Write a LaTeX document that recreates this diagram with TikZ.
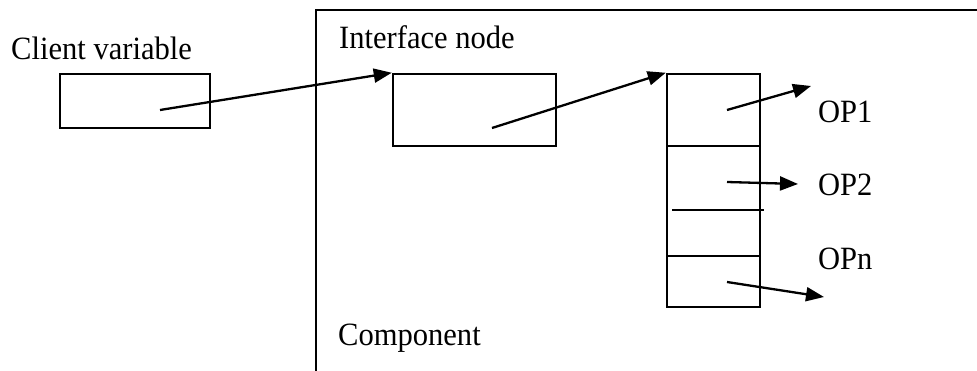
\documentclass[tikz,border=0pt]{standalone}
\usepackage{fontspec}
\setmainfont{Liberation Serif}
\usetikzlibrary{arrows.meta}

\begin{document}
\begin{tikzpicture}[x=1pt, y=-1pt, line width=2.5pt,
    box/.style={draw, rectangle, inner sep=0pt, line width=2.5pt},
    lbl/.style={anchor=base west, inner sep=0pt, xscale=0.94, font=\fontsize{32.5}{38}\selectfont},
    arr/.style={-{Triangle[length=18pt, width=14pt]}, line width=2.3pt}]
    \useasboundingbox (0,0) rectangle (977,371);

    % Component frame
    \draw (316,371) -- (316,10) -- (977,10);
    \node[lbl] (comp) at (337,345) {Component};

    % Client variable
    \node[lbl] (cvlabel) at (10,60) {Client variable};
    \node[box, minimum width=150pt, minimum height=54pt] (cv) at (135,101) {};
    \coordinate (cvdot) at (160,110);

    % Interface node
    \node[lbl] (iflabel) at (338,49) {Interface node};
    \node[box, minimum width=163pt, minimum height=72pt] (if) at (474.5,110) {};
    \coordinate (ifdot) at (492,128);

    % Operation table
    \node[box, minimum width=93pt, minimum height=72pt] (cell1) at (713.5,110) {};
    \node[box, minimum width=93pt, minimum height=110pt] (cell2) at (713.5,201) {};
    \node[box, minimum width=93pt, minimum height=51pt] (cell3) at (713.5,281.5) {};
    \coordinate (sepL) at (672,210);
    \coordinate (sepR) at (764,210);
    \draw (sepL) -- (sepR);

    % Operations
    \node[lbl] (op1) at (817,123) {OP1};
    \node[lbl] (op2) at (817,196) {OP2};
    \node[lbl] (opn) at (817,270) {OPn};
    \coordinate (d1) at (727,110);
    \coordinate (d2) at (727,182);
    \coordinate (dn) at (727,282);
    \coordinate (t1) at (811,86);
    \coordinate (t2) at (798,184);
    \coordinate (tn) at (824,297);

    % Pointers
    \draw[arr] (cvdot) -- (if.north west);
    \draw[arr] (ifdot) -- (cell1.north west);
    \draw[arr] (d1) -- (t1);
    \draw[arr] (d2) -- (t2);
    \draw[arr] (dn) -- (tn);
\end{tikzpicture}
\end{document}
